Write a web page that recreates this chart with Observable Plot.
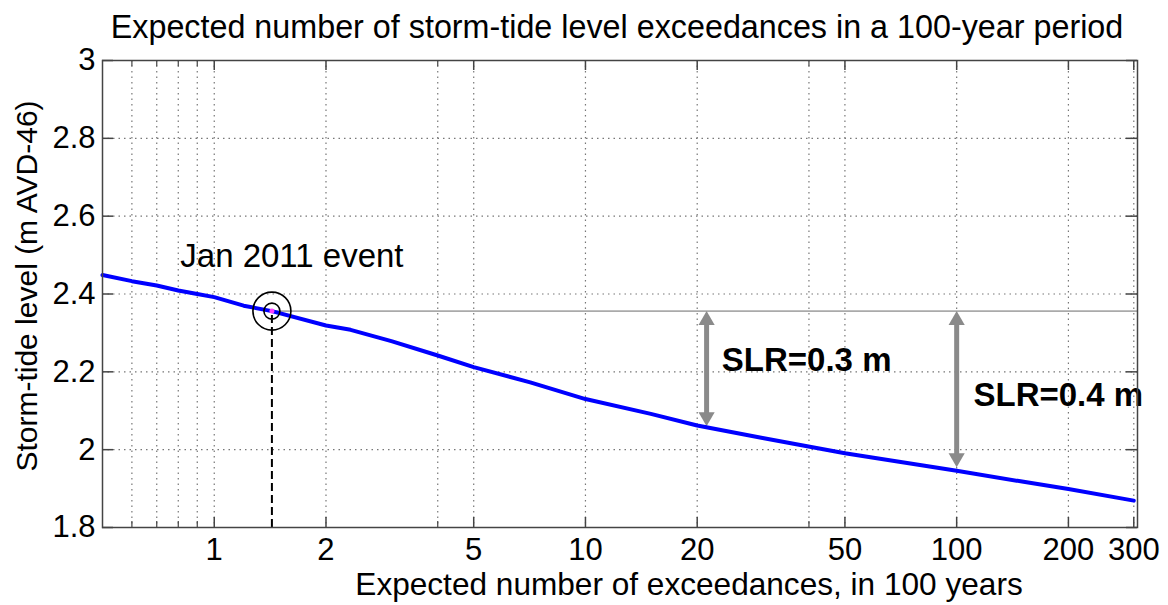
<!DOCTYPE html>
<html><head><meta charset="utf-8">
<script src="https://cdn.jsdelivr.net/npm/d3@7"></script>
<script src="https://cdn.jsdelivr.net/npm/@observablehq/plot@0.6"></script>
<style>body{margin:0;background:#fff}</style>
</head><body><div id="chart"></div>
<script>
// ---- data ----
const exceedances = [0.5, 0.6, 0.7, 0.8, 0.9, 1, 1.2, 1.43, 2, 2.33, 3, 4, 5, 7.1, 10, 15, 20, 30, 50, 70, 100, 150, 200, 300];
const stormTide   = [2.449, 2.433, 2.422, 2.409, 2.400, 2.392, 2.370, 2.356, 2.319, 2.308, 2.279, 2.242, 2.212, 2.173, 2.130, 2.092, 2.062, 2.030, 1.991, 1.969, 1.946, 1.918, 1.899, 1.869];
const xTickValues  = [1, 2, 5, 10, 20, 50, 100, 200, 300];
const xGridValues  = [0.6, 0.7, 0.8, 0.9, 1, 2, 4, 5, 10, 20, 40, 50, 100, 200, 300];
const xMinorValues = [0.6, 0.7, 0.8, 0.9, 4, 40];
const yTickValues  = [1.8, 2, 2.2, 2.4, 2.6, 2.8, 3];
const eventX = 1.43, eventY = 2.356;
const eventLabel = "Jan 2011 event";
const eventLabelX = 0.81, eventLabelY = 2.469;
const slrLabels  = ["SLR=0.3 m", "SLR=0.4 m"];
const slrX       = [21.2, 100];
const slrBottom  = [2.06, 1.955];
const slrLabelX  = [23.3, 111];
const slrLabelY  = [2.203, 2.113];
const titleText = "Expected number of storm-tide level exceedances in a 100-year period";
const xLabelText = "Expected number of exceedances, in 100 years";
const yLabelText = "Storm-tide level (m AVD-46)";

const curve = exceedances.map((x, i) => ({x, y: stormTide[i]}));
const slr = slrLabels.map((label, i) => ({label, x: slrX[i], top: eventY, bottom: slrBottom[i], lx: slrLabelX[i], ly: slrLabelY[i]}));
const xDomain = [0.5, 307];

const W = 1168, H = 605, mL = 102, mR = 31, mT = 60, mB = 78;
const FH = H - mT - mB, FW = W - mL - mR;
const font = "'Liberation Sans', Arial, Helvetica, sans-serif";
const fmtY = d => String(+d.toFixed(1));
const triR = 6; // triangle symbol radius
const triTip = 2 * Math.sqrt(Math.PI * triR * triR / (3 * Math.sqrt(3)));
const majorX = xGridValues.filter(d => !xMinorValues.includes(d));

const chart = Plot.plot({
  width: W, height: H,
  marginLeft: mL, marginRight: mR, marginTop: mT, marginBottom: mB,
  style: {fontFamily: font, background: "#fff", color: "#000"},
  x: {type: "log", domain: xDomain, axis: null},
  y: {domain: [1.8, 3], axis: null},
  marks: [
    Plot.gridX(xGridValues, {stroke: "#777", strokeOpacity: 1, strokeWidth: 1.2, strokeDasharray: "1.5,4"}),
    Plot.gridY(yTickValues.slice(1, -1), {stroke: "#777", strokeOpacity: 1, strokeWidth: 1.2, strokeDasharray: "1.5,4"}),
    // horizontal reference at event level
    Plot.ruleY([eventY], {x1: eventX, x2: xDomain[1], stroke: "#aaa", strokeWidth: 1.6}),
    // dashed drop line
    Plot.ruleX([eventX], {y1: 1.8, y2: eventY, stroke: "#000", strokeWidth: 2, strokeDasharray: "8,4"}),
    // SLR arrows
    Plot.ruleX(slr, {x: "x", y1: "top", y2: "bottom", stroke: "#8a8a8a", strokeWidth: 5, insetTop: 8, insetBottom: 8}),
    Plot.dot(slr, {x: "x", y: "top", symbol: "triangle", r: triR, fill: "#8a8a8a", dy: triTip}),
    Plot.dot(slr, {x: "x", y: "bottom", symbol: "triangle", r: triR, fill: "#8a8a8a", rotate: 180, dy: -triTip}),
    // exceedance curve
    Plot.line(curve, {x: "x", y: "y", stroke: "#0000ff", strokeWidth: 4}),
    // event markers
    Plot.dot([{x: eventX, y: eventY}], {x: "x", y: "y", r: 19, stroke: "#000", strokeWidth: 1.6, fill: "none"}),
    Plot.dot([{x: eventX, y: eventY}], {x: "x", y: "y", r: 8, stroke: "#000", strokeWidth: 1.6, fill: "none"}),
    Plot.dot([{x: eventX, y: eventY}], {x: "x", y: "y", r: 2.5, fill: "#ff40ff", stroke: "none"}),
    // annotations
    Plot.text([eventLabel], {x: eventLabelX, y: eventLabelY, text: d => d, textAnchor: "start", lineAnchor: "bottom", fontSize: 33, fill: "#000"}),
    Plot.text(slr, {x: "lx", y: "ly", text: "label", textAnchor: "start", lineAnchor: "bottom", fontSize: 33, fontWeight: "bold", fill: "#000"}),
    // frame & ticks (inward, MATLAB style)
    Plot.frame({stroke: "#444", strokeWidth: 1.5}),
    Plot.tickX(majorX, {x: d => d, stroke: "#444", strokeWidth: 1.5, insetTop: FH - 10}),
    Plot.tickX(majorX, {x: d => d, stroke: "#444", strokeWidth: 1.5, insetBottom: FH - 10}),
    Plot.tickX(xMinorValues, {x: d => d, stroke: "#444", strokeWidth: 1.2, insetTop: FH - 6}),
    Plot.tickX(xMinorValues, {x: d => d, stroke: "#444", strokeWidth: 1.2, insetBottom: FH - 6}),
    Plot.tickY(yTickValues, {y: d => d, stroke: "#444", strokeWidth: 1.5, insetRight: FW - 11}),
    Plot.tickY(yTickValues, {y: d => d, stroke: "#444", strokeWidth: 1.5, insetLeft: FW - 11}),
    // tick labels
    Plot.text(xTickValues, {x: d => d, text: d => String(d), frameAnchor: "bottom", lineAnchor: "middle", dy: 23, fontSize: 31, fill: "#000"}),
    Plot.text(yTickValues, {y: d => d, text: fmtY, frameAnchor: "left", textAnchor: "end", lineAnchor: "middle", dx: -7, fontSize: 31, fill: "#000"}),
    // titles
    Plot.text([titleText], {frameAnchor: "top", text: d => d, textAnchor: "middle", lineAnchor: "middle", dy: -33, dx: -3, fontSize: 32.3, fill: "#000"}),
    Plot.text([xLabelText], {frameAnchor: "bottom", text: d => d, textAnchor: "middle", lineAnchor: "middle", dy: 57, dx: 69, fontSize: 31.6, fill: "#000"}),
    Plot.text([yLabelText], {frameAnchor: "left", text: d => d, textAnchor: "middle", lineAnchor: "middle", rotate: -90, dx: -75, dy: -8, fontSize: 30, fill: "#000"})
  ]
});
document.getElementById("chart").appendChild(chart);
</script>
</body></html>
